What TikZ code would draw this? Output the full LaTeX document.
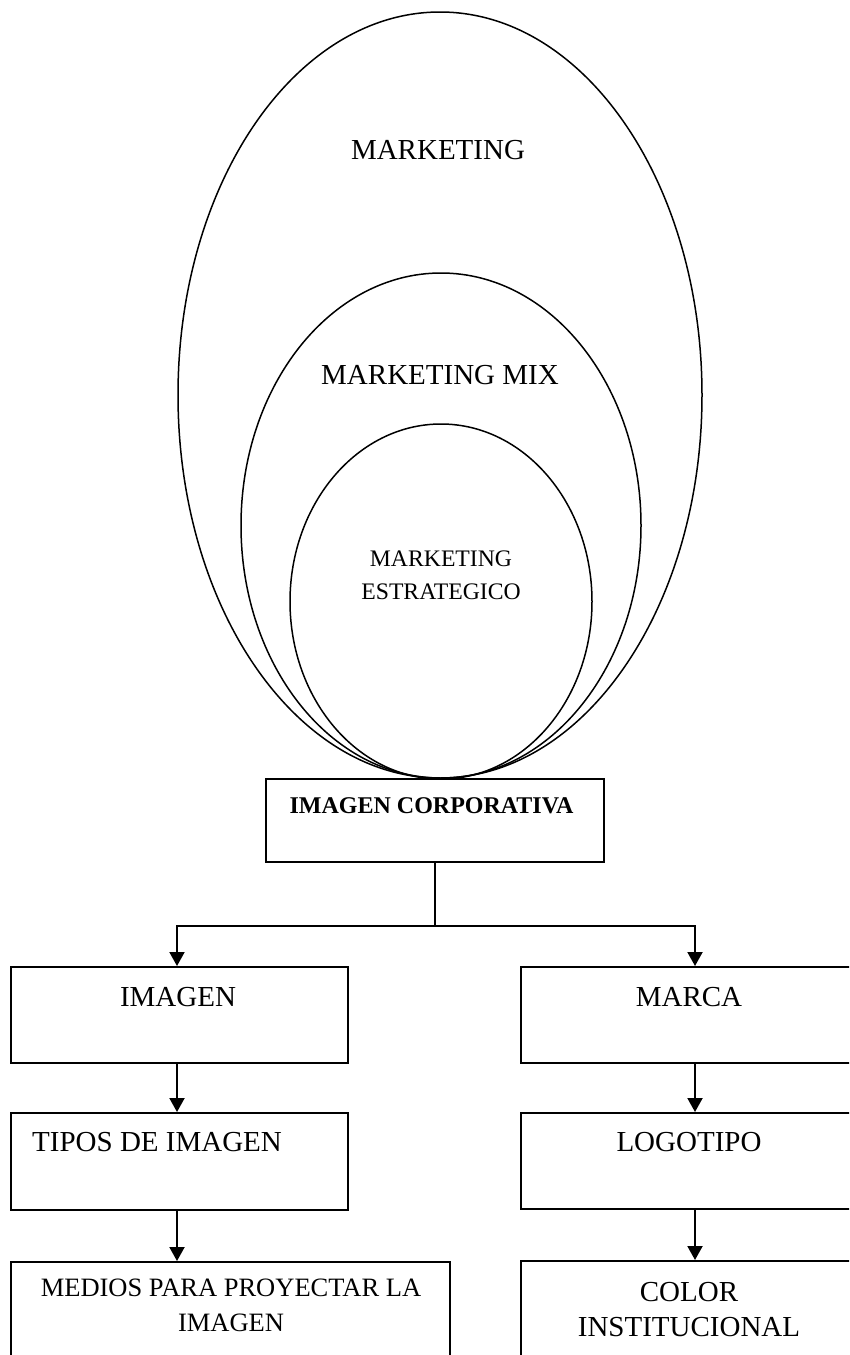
\documentclass[tikz,border=0pt]{standalone}
\usepackage{fontspec}
\setmainfont{Liberation Serif}
\usetikzlibrary{arrows.meta,shapes.geometric}
\begin{document}
\begin{tikzpicture}[x=1pt,y=-1pt,
  oval/.style={ellipse, draw, line width=1.5pt, inner sep=0pt},
  box/.style={rectangle, draw, line width=2pt, inner sep=0pt},
  lbl/.style={inner sep=0pt, align=center, font=\fontsize{29}{35}\selectfont},
  conn/.style={line width=2pt},
  arr/.style={conn, -{Triangle[width=15pt,length=14pt]}}]
\useasboundingbox (0,0) rectangle (849,1355);
\clip (0,0) rectangle (849,1355);
% ellipses
\node[oval, minimum width=524pt, minimum height=766pt] (mk) at (440,395) {};
\node[oval, minimum width=400pt, minimum height=505pt] (mix) at (441,525.5) {};
\node[oval, minimum width=302pt, minimum height=355pt] (est) at (441,601.5) {};
\node[lbl] (tmk) at (438,150) {MARKETING};
\node[lbl] (tmix) at (440,375) {MARKETING MIX};
\node[lbl, font=\fontsize{23.7}{33}\selectfont] (test) at (441,575.5) {MARKETING\\ESTRATEGICO};
% boxes
\node[box, minimum width=338pt, minimum height=83pt] (corp) at (435,820.5) {};
\node[lbl, font=\fontsize{24}{28}\selectfont\bfseries] (tcorp) at (431.5,806) {IMAGEN CORPORATIVA};
\node[box, minimum width=337pt, minimum height=96pt] (img) at (179.5,1015) {};
\node[box, minimum width=337pt, minimum height=97pt] (tipos) at (179.5,1161.5) {};
\node[box, minimum width=439pt, minimum height=138pt] (medios) at (230.5,1331) {};
\node[box, minimum width=359pt, minimum height=96pt] (marca) at (700.5,1015) {};
\node[box, minimum width=359pt, minimum height=96pt] (logo) at (700.5,1161) {};
\node[box, minimum width=359pt, minimum height=139pt] (color) at (700.5,1330.5) {};
\node[lbl] (timg) at (178,997) {IMAGEN};
\node[lbl, anchor=west] (ttipos) at (32,1142) {TIPOS DE IMAGEN};
\node[lbl, font=\fontsize{26.5}{35}\selectfont] (tmedios) at (231,1305.5) {MEDIOS PARA PROYECTAR LA\\IMAGEN};
\node[lbl] (tmarca) at (689,997) {MARCA};
\node[lbl] (tlogo) at (689,1142) {LOGOTIPO};
\node[lbl] (tcolor) at (689,1309.5) {COLOR\\INSTITUCIONAL};
% connectors
\coordinate (j) at (435,926);
\coordinate (jl) at (177,926);
\coordinate (jr) at (695,926);
\draw[conn] (corp.south) -- (j);
\draw[arr] (j) -- (jl) -- (jl |- img.north);
\draw[arr] (j) -- (jr) -- (jr |- marca.north);
\draw[arr] (jl |- img.south) -- (jl |- tipos.north);
\draw[arr] (jl |- tipos.south) -- (jl |- medios.north);
\draw[arr] (jr |- marca.south) -- (jr |- logo.north);
\draw[arr] (jr |- logo.south) -- (jr |- color.north);
\end{tikzpicture}
\end{document}
